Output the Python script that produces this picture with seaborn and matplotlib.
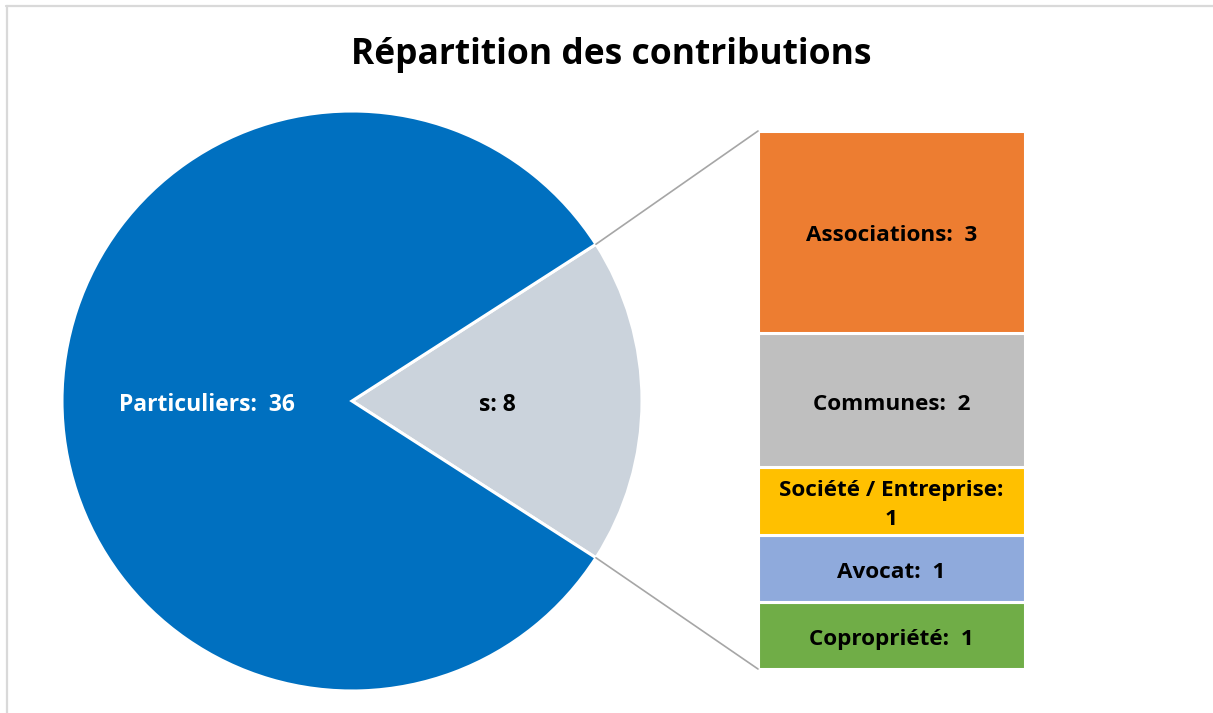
import matplotlib.pyplot as plt
import seaborn as sns
from matplotlib.patches import ConnectionPatch
from matplotlib.lines import Line2D
from matplotlib.transforms import offset_copy
import numpy as np

# main pie
pie_labels = ['s', 'Particuliers']
pie_values = [8, 36]
pie_colors = ['#CBD3DC', '#0070C0']

# detail of the "others" slice, top to bottom
bar_labels = ['Associations', 'Communes', 'Société / Entreprise', 'Avocat', 'Copropriété']
bar_values = [3, 2, 1, 1, 1]
bar_colors = ['#ED7D31', '#BFBFBF', '#FFC000', '#8FAADC', '#70AD47']

sns.set_theme(style='white')
plt.rcParams['font.family'] = ['Open Sans', 'DejaVu Sans']

W, H = 1213, 713
fig = plt.figure(figsize=(W / 100, H / 100), dpi=100)

# thin grey frame (cut off at right and bottom)
fig.add_artist(Line2D([6 / W, 1], [1 - 6 / H, 1 - 6 / H], color='#D9D9D9', lw=1.6))
fig.add_artist(Line2D([7 / W, 7 / W], [0, 1 - 6 / H], color='#D9D9D9', lw=1.6))

fig.text(611 / W, 1 - 55 / H, 'Répartition des contributions', ha='center', va='center',
         fontsize=25.5, fontweight='bold', color='black')

# pie
cx, cy, r = 352, 401, 290
ax_pie = fig.add_axes([(cx - r) / W, (H - cy - r) / H, 2 * r / W, 2 * r / H])
half = 360 * pie_values[0] / sum(pie_values) / 2
wedges, texts = ax_pie.pie(pie_values, colors=pie_colors, startangle=-half, radius=1,
                           labels=[f'{l}: {v}' if l == 's' else f'{l}:  {v}' for l, v in zip(pie_labels, pie_values)],
                           labeldistance=0.5,
                           wedgeprops=dict(edgecolor='white', linewidth=2.2))
for t, c in zip(texts, ['black', 'white']):
    t.set_ha('center')
    t.set_va('center')
    t.set_color(c)
    t.set_fontweight('bold')
    t.set_fontsize(16.5)
    t.set_transform(offset_copy(ax_pie.transData, fig=fig, x=0, y=-4, units='dots'))
ax_pie.set_xlim(-1, 1)
ax_pie.set_ylim(-1, 1)
ax_pie.set_aspect('equal')
ax_pie.axis('off')

# stacked bar
bx0, bx1, by0, by1 = 758, 1025, 131, 669
ax_bar = fig.add_axes([bx0 / W, (H - by1) / H, (bx1 - bx0) / W, (by1 - by0) / H])
txt_tr = offset_copy(ax_bar.transData, fig=fig, x=0, y=-4, units='dots')
bottom = 0
for lab, val, col in reversed(list(zip(bar_labels, bar_values, bar_colors))):
    ax_bar.bar(0, val, bottom=bottom, width=1, color=col, edgecolor='white', linewidth=2.2)
    txt = f'{lab}:  {val}'
    if lab.startswith('Société'):
        txt = f'{lab}:\n{val}'
    ax_bar.text(0, bottom + val / 2, txt, ha='center', va='center', fontsize=16.2,
                fontweight='bold', color='black', linespacing=1.5, transform=txt_tr)
    bottom += val
ax_bar.set_xlim(-0.5, 0.5)
ax_bar.set_ylim(0, sum(bar_values))
ax_bar.axis('off')

# connector lines
a = np.deg2rad(half)
for sgn, yb in [(1, sum(bar_values)), (-1, 0)]:
    con = ConnectionPatch(xyA=(np.cos(a), sgn * np.sin(a)), coordsA=ax_pie.transData,
                          xyB=(-0.5, yb), coordsB=ax_bar.transData,
                          color='#A6A6A6', lw=1.2)
    fig.add_artist(con)

fig.savefig('out.png', dpi=100)
